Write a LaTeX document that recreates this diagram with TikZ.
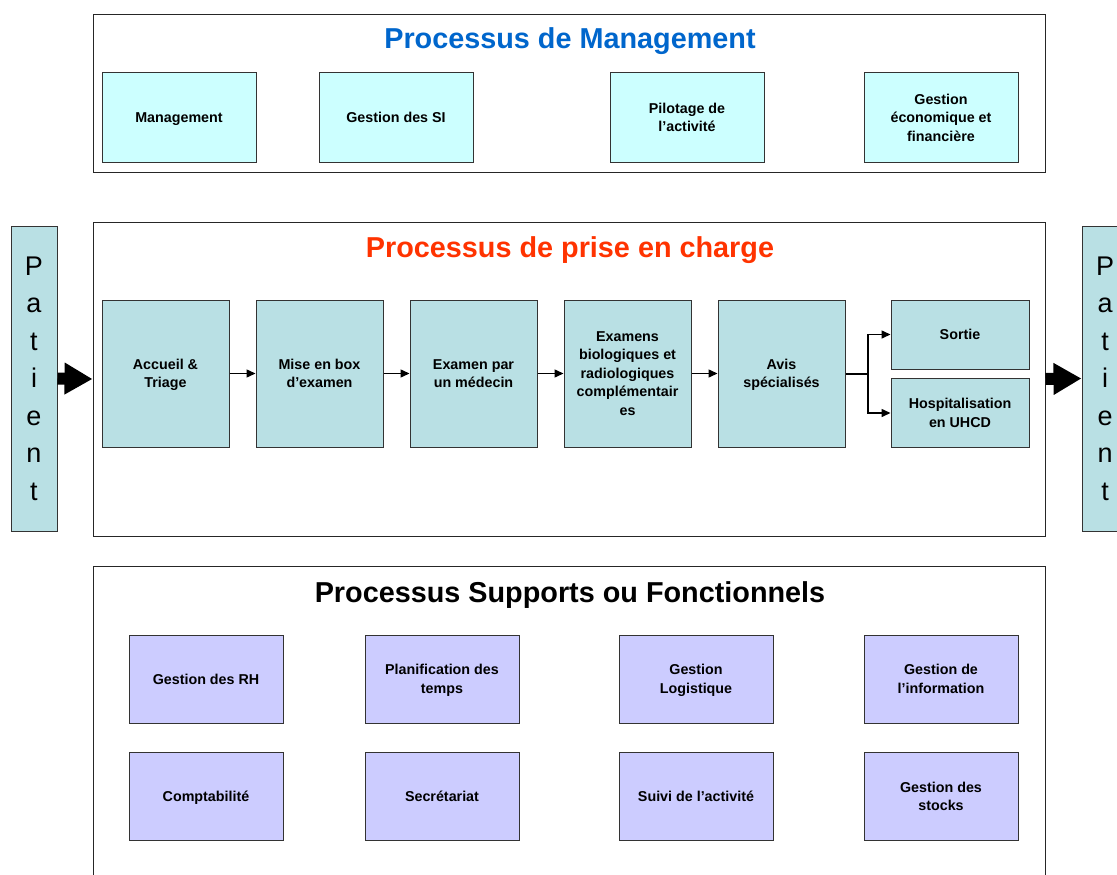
\documentclass[tikz,border=0pt]{standalone}
\usepackage{fontspec}
\setmainfont{Liberation Sans}
\usetikzlibrary{arrows.meta}
\definecolor{mgtfill}{RGB}{204,255,255}
\definecolor{pecfill}{RGB}{185,224,228}
\definecolor{supfill}{RGB}{204,204,255}
\definecolor{mgtblue}{RGB}{0,102,204}
\definecolor{pecred}{RGB}{255,51,0}
\tikzset{
  frame/.style={draw=black!85, line width=1pt, minimum width=952},
  boxtext/.style={draw=black!80, line width=1pt, align=center, inner sep=2pt,
    text depth=0pt, font=\fontsize{14.3}{18.5}\selectfont\bfseries},
  mgtbox/.style={boxtext, fill=mgtfill, minimum width=154, minimum height=89},
  pecbox/.style={boxtext, fill=pecfill, minimum width=127, minimum height=147},
  outbox/.style={boxtext, fill=pecfill, minimum width=138, minimum height=69},
  supbox/.style={boxtext, fill=supfill, minimum width=154, minimum height=88},
  patient/.style={draw=black!80, line width=1pt, fill=pecfill, align=center,
    minimum width=46, minimum height=305, font=\fontsize{27}{37.5}\selectfont},
  titre/.style={font=\fontsize{28.8}{32}\selectfont\bfseries},
  flow/.style={line width=1.5pt, -{Triangle[length=9pt,width=8pt]}},
  bigflow/.style={line width=12pt, -{Triangle[length=28pt,width=30pt]}}
}
\begin{document}
\begin{tikzpicture}[x=1pt,y=-1pt]
\useasboundingbox (0,0) rectangle (1117,875);
% processus de management
\node[frame, minimum height=157] (mgtframe) at (569,93.5) {};
\node[titre, text=mgtblue] (mgttitle) at (570,41.5) {Processus de Management};
\node[mgtbox] (mgt) at (179,117.5) {Management};
\node[mgtbox] (si) at (396,117.5) {Gestion des SI};
\node[mgtbox] (pilot) at (687,117.5) {Pilotage de\\l’activité};
\node[mgtbox] (eco) at (941,117.5) {Gestion\\économique et\\financière};
% processus de prise en charge
\node[frame, minimum height=314] (pecframe) at (569,379) {};
\node[titre, text=pecred] (pectitle) at (570,250.5) {Processus de prise en charge};
\node[pecbox] (accueil) at (165.5,373.5) {Accueil \&\\Triage};
\node[pecbox] (box) at (319.5,373.5) {Mise en box\\d’examen};
\node[pecbox] (medecin) at (473.5,373.5) {Examen par\\un médecin};
\node[pecbox] (bio) at (627.5,373.5) {Examens\\biologiques et\\radiologiques\\complémentair\\es};
\node[pecbox] (avis) at (781.5,373.5) {Avis\\spécialisés};
\node[outbox] (sortie) at (960,334.5) {Sortie};
\node[outbox] (uhcd) at (960,413) {Hospitalisation\\en UHCD};
\coordinate (fourche) at (868,374);
\draw[flow] (accueil) -- (box);
\draw[flow] (box) -- (medecin);
\draw[flow] (medecin) -- (bio);
\draw[flow] (bio) -- (avis);
\draw[line width=1.5pt] (avis.east |- fourche) -- (fourche);
\draw[flow] (fourche) |- (sortie.west);
\draw[flow] (fourche) |- (uhcd.west);
% patient
\node[patient] (patL) at (34,378.5) {P\\a\\t\\i\\e\\n\\t};
\node[patient] (patR) at (1105,378.5) {P\\a\\t\\i\\e\\n\\t};
\draw[bigflow] (patL.east) -- (pecframe.west);
\draw[bigflow] (pecframe.east) -- (patR.west);
% processus supports
\node[frame, minimum height=340] (supframe) at (569,736) {};
\node[titre] (suptitle) at (570,595.5) {Processus Supports ou Fonctionnels};
\node[supbox] (rh) at (206,679) {Gestion des RH};
\node[supbox] (planif) at (442,679) {Planification des\\temps};
\node[supbox] (logis) at (696,679) {Gestion\\Logistique};
\node[supbox] (info) at (941,679) {Gestion de\\l’information};
\node[supbox] (compta) at (206,796.5) {Comptabilité};
\node[supbox] (secret) at (442,796.5) {Secrétariat};
\node[supbox] (suivi) at (696,796.5) {Suivi de l’activité};
\node[supbox] (stocks) at (941,796.5) {Gestion des\\stocks};
\end{tikzpicture}
\end{document}
